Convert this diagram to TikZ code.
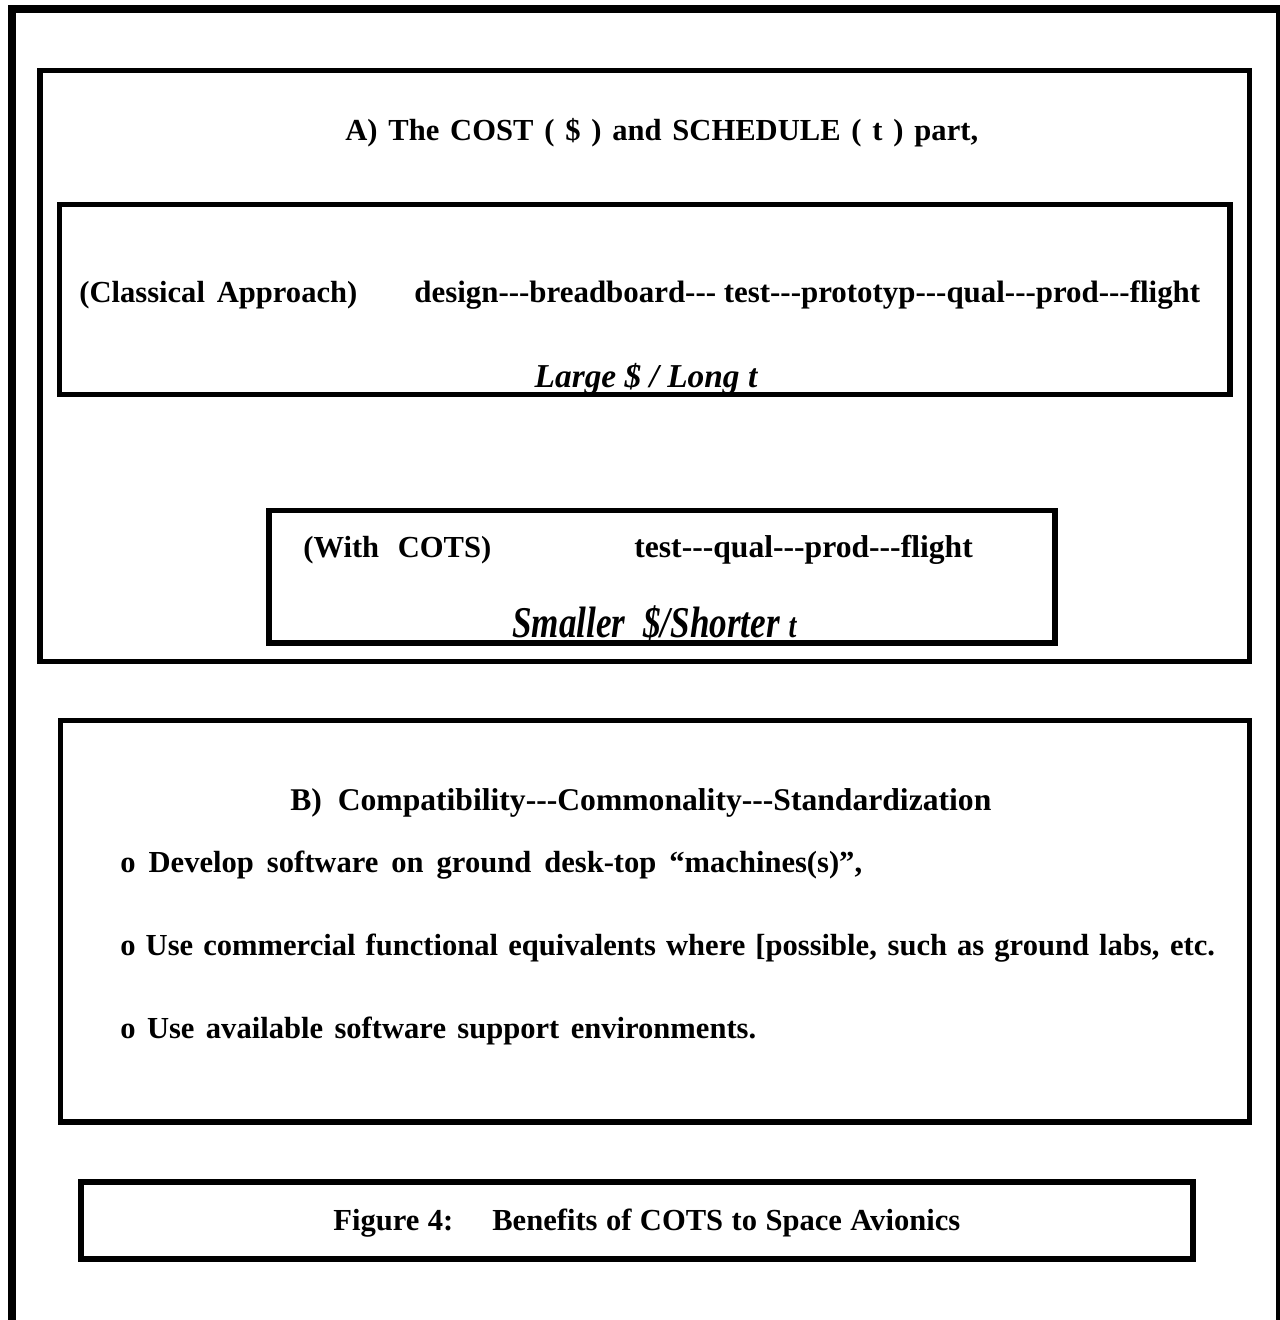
\documentclass[tikz,border=0pt]{standalone}
\usepackage{fontspec}
\setmainfont{Liberation Serif}
\usetikzlibrary{positioning}

% stretch the spaces of a line to a given width
\newcommand{\spread}[2]{\makebox[#1][s]{#2}}

\begin{document}
\begin{tikzpicture}[x=0.02cm, y=-0.02cm,
  frame/.style={line width=4.6pt, line join=miter},
  box/.style={line width=3.1pt, line join=miter},
  txt/.style={font=\fontsize{17.4}{21}\selectfont\bfseries, inner sep=0pt, anchor=base west},
  wide/.style={txt, font=\fontsize{18}{21}\selectfont\bfseries},
  note/.style={font=\fontsize{19}{22}\selectfont\bfseries\itshape, inner sep=0pt, anchor=base},
  big/.style={font=\fontsize{25}{28}\selectfont\bfseries\itshape, inner sep=0pt, anchor=base west}]
  \useasboundingbox (0,0) rectangle (1280,1320);
  % frames
  \draw[frame] (12,1340) -- (12,9) -- (1280,9) -- (1280,1340);
  \draw[box] (40,70.5) rectangle (1249.5,661.5);
  \draw[box] (59.5,204.5) rectangle (1230,394.5);
  \draw[box] (269,510.5) rectangle (1055,643);
  \draw[box] (60.5,720.5) rectangle (1249.5,1122);
  \draw[box] (81,1182) rectangle (1193,1259);
  % part A
  \node[txt] (costA) at (345,140) {\spread{12.66cm}{A) The COST ( \$ ) and SCHEDULE ( t ) part,}};
  \node[txt] (classic) at (79,302) {\spread{5.56cm}{(Classical Approach)}};
  \node[txt, font=\fontsize{17.6}{21}\selectfont\bfseries] (steps) at (414,302)
    {design-{}-{}-breadboard-{}-{}- test-{}-{}-prototyp-{}-{}-qual-{}-{}-prod-{}-{}-flight};
  \node[note] (large) at (646,387) {Large \$ / Long t};
  \node[txt] (cots) at (303,557) {\spread{3.76cm}{(With COTS)}};
  \node[wide] (short) at (634,557) {test-{}-{}-qual-{}-{}-prod-{}-{}-flight};
  \node[big] (small) at (512,637) {\scalebox{0.8}[1]{Smaller~ \$/Shorter {\fontsize{20}{22}\selectfont t}}};
  % part B
  \node[wide] (compat) at (290,810) {B)~ Compatibility-{}-{}-Commonality-{}-{}-Standardization};
  \node[txt] (itemA) at (120,872) {\spread{14.84cm}{o Develop software on ground desk-top “machines(s)”,}};
  \node[txt] (itemB) at (120,955) {\spread{21.9cm}{o Use commercial functional equivalents where [possible, such as ground labs, etc.}};
  \node[txt] (itemC) at (120,1038) {\spread{12.72cm}{o Use available software support environments.}};
  % caption
  \node[txt] (caption) at (333,1230) {\spread{12.54cm}{Figure 4:\quad\ Benefits of COTS to Space Avionics}};
\end{tikzpicture}
\end{document}
